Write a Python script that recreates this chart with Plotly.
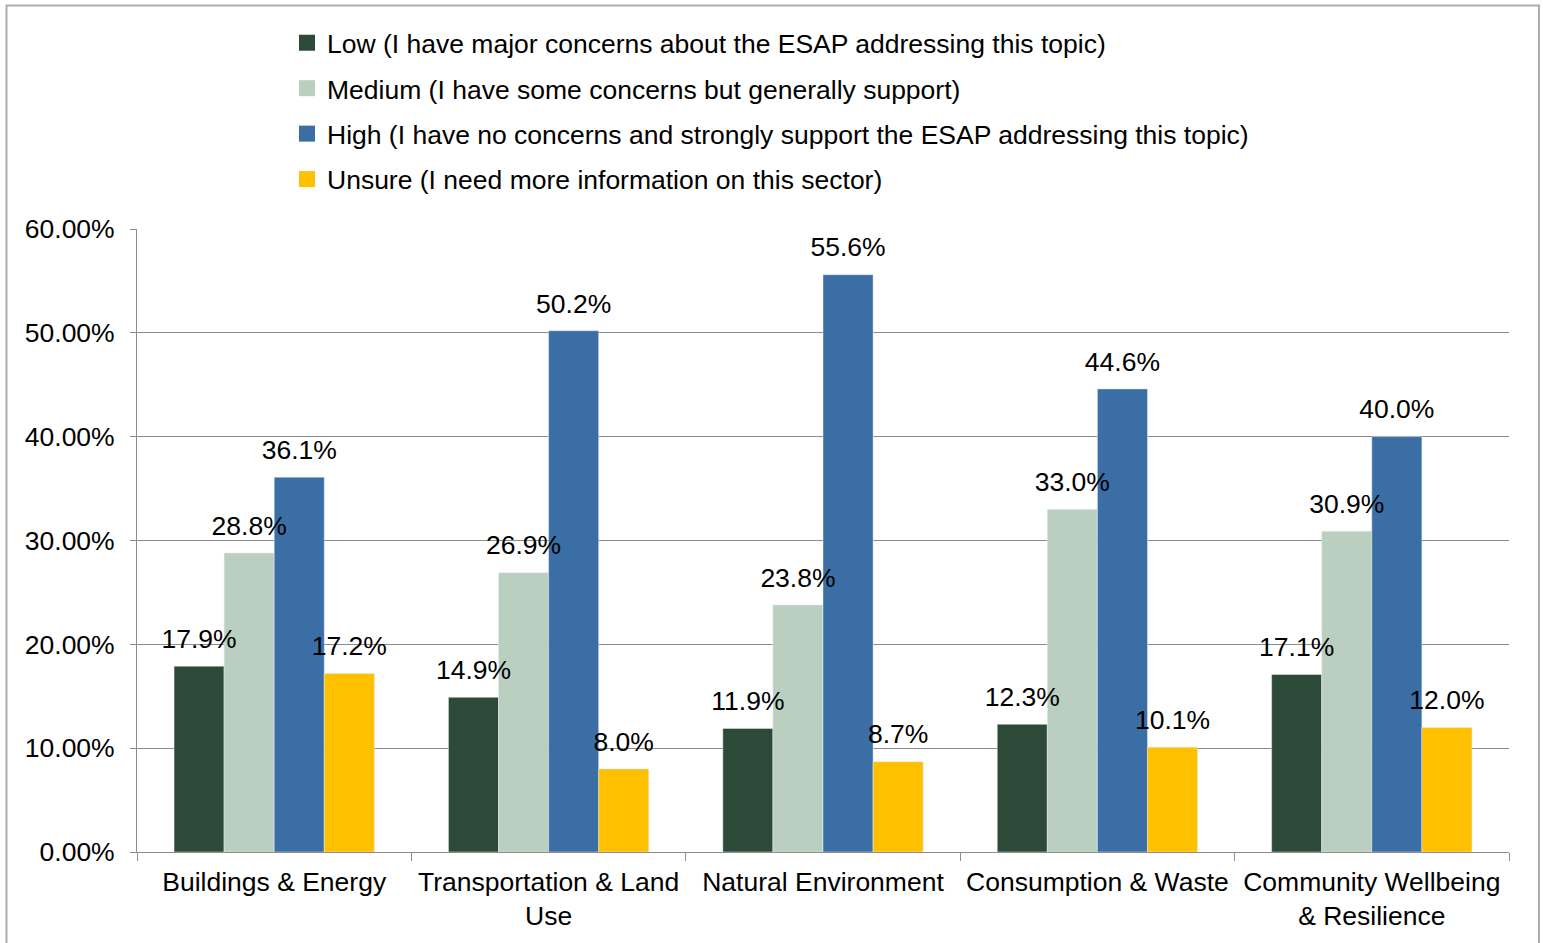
import plotly.graph_objects as go

categories = ["Buildings & Energy", "Transportation & Land<br>Use", "Natural Environment",
              "Consumption & Waste", "Community Wellbeing<br>& Resilience"]
low = [0.179, 0.149, 0.119, 0.123, 0.171]
medium = [0.288, 0.269, 0.238, 0.330, 0.309]
high = [0.361, 0.502, 0.556, 0.446, 0.400]
unsure = [0.172, 0.080, 0.087, 0.101, 0.120]

series = [
    ("Low (I have major concerns about the ESAP addressing this topic)", low, "#2C4A37"),
    ("Medium (I have some concerns but generally support)", medium, "#BACFC0"),
    ("High (I have no concerns and strongly support the ESAP addressing this topic)", high, "#3B6EA5"),
    ("Unsure (I need more information on this sector)", unsure, "#FFC000"),
]

FONT = "Liberation Sans, Arial, sans-serif"
FS = 26.5

fig = go.Figure()
for i, (name, vals, color) in enumerate(series):
    fig.add_trace(go.Bar(
        x=categories, y=vals, name=name, marker_color=color,
        offsetgroup=str(i), alignmentgroup="a", showlegend=False,
    ))
# value labels drawn last so no bar covers them (invisible markers push text up)
for i, (name, vals, color) in enumerate(series):
    fig.add_trace(go.Scatter(
        x=categories, y=vals, mode="markers+text", texttemplate="%{y:.1%}",
        marker=dict(size=17, opacity=0),
        textposition="top center", textfont=dict(size=FS, color="#000"),
        offsetgroup=str(i), alignmentgroup="a", cliponaxis=False,
        showlegend=False, hoverinfo="skip",
    ))
# square legend swatches
for i, (name, vals, color) in enumerate(series):
    fig.add_trace(go.Scatter(
        x=[None], y=[None], mode="markers", name=name,
        marker=dict(symbol="square", size=16, color=color),
        legendgroup=f"g{i}", showlegend=True,
    ))

W, H = 1543, 943
L, R, T, B = 137, 1509, 229, 852
pw, ph = R - L, B - T

fig.update_layout(
    width=W, height=H,
    margin=dict(l=L, r=W - R, t=T, b=H - B, autoexpand=False),
    paper_bgcolor="white", plot_bgcolor="white",
    font=dict(family=FONT, size=FS, color="#000"),
    barmode="group", bargap=0.27, bargroupgap=0,
    scattermode="group", scattergap=0.27,
    showlegend=True,
    legend=dict(xref="container", yref="container", x=287 / W, y=1 - 19 / H,
                xanchor="left", yanchor="top", tracegroupgap=8,
                font=dict(size=FS), itemwidth=30, bgcolor="rgba(0,0,0,0)"),
    shapes=[dict(type="rect", xref="paper", yref="paper",
                 x0=(6.5 - L) / pw, x1=(1539 - L) / pw,
                 y0=(B - 960) / ph, y1=(B - 5.5) / ph,
                 line=dict(color="#ADADAD", width=2), fillcolor="rgba(0,0,0,0)")],
)
fig.update_yaxes(range=[0, 0.6], dtick=0.1, tickformat=".2%", showgrid=True, gridcolor="#8C8C8C",
                 gridwidth=1, showline=True, linecolor="#8C8C8C", ticks="outside", ticklen=6,
                 tickcolor="#8C8C8C", zeroline=False, tickfont=dict(size=FS), ticklabelstandoff=10)
fig.update_xaxes(showline=True, linecolor="#8C8C8C", ticks="outside", ticklen=8, tickcolor="#8C8C8C",
                 tickson="boundaries", tickfont=dict(size=FS), range=[-0.5, 4.5],
                 ticklabelstandoff=6)

fig.write_html("out.html", config={"displayModeBar": False},
               post_script="document.body.style.margin='0';")
